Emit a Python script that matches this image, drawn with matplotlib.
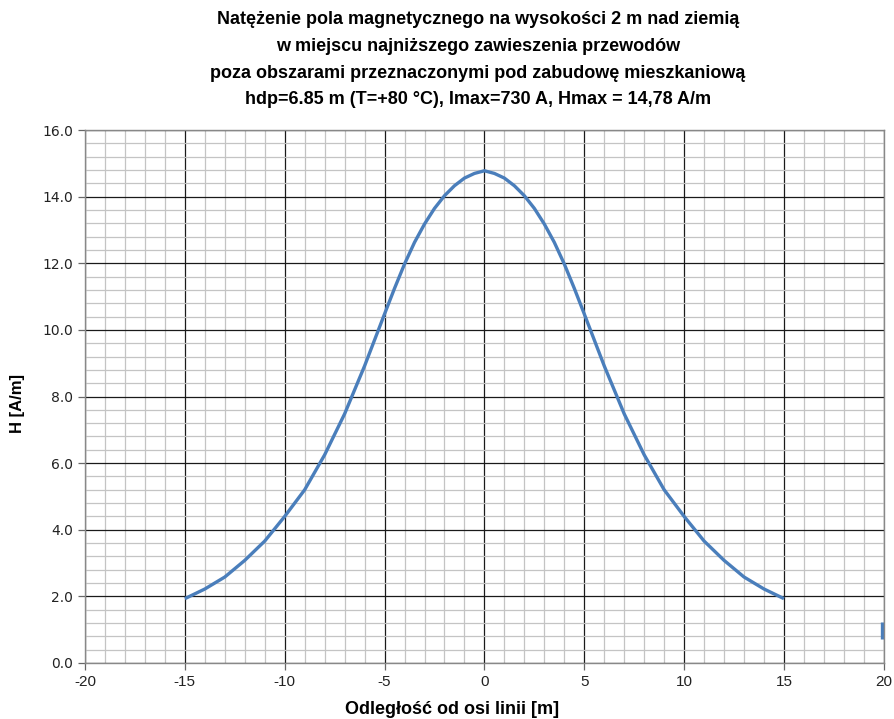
import numpy as np
import matplotlib.pyplot as plt
from matplotlib.ticker import MultipleLocator

# odczyty z wykresu (symetryczne wzgledem osi linii)
x_half = [0, 0.5, 1, 1.5, 2, 2.5, 3, 3.5, 4, 4.5, 5, 6, 7, 8, 9, 10, 11, 12, 13, 14, 15]
h_half = [14.78, 14.70, 14.56, 14.33, 14.03, 13.65, 13.18, 12.63, 11.98, 11.25,
          10.48, 8.92, 7.48, 6.25, 5.20, 4.40, 3.66, 3.08, 2.58, 2.22, 1.93]

x = np.array([-v for v in x_half[:0:-1]] + x_half)
h = np.array(h_half[:0:-1] + h_half)

# maly fragment linii przy prawej krawedzi
stub_x = [19.9, 19.9]
stub_y = [0.71, 1.22]

title = ("Natężenie pola magnetycznego na wysokości 2 m nad ziemią\n"
         "w miejscu najniższego zawieszenia przewodów\n"
         "poza obszarami przeznaczonymi pod zabudowę mieszkaniową\n"
         "hdp=6.85 m (T=+80 °C), Imax=730 A, Hmax = 14,78 A/m")

font = ['Liberation Sans', 'DejaVu Sans']
blue = '#4a7ebb'

fig = plt.figure(figsize=(8.95, 7.19), dpi=100)
ax = fig.add_axes([0.095, 0.078, 0.8925, 0.741])

ax.plot(x, h, color=blue, lw=2.4, solid_capstyle='butt', solid_joinstyle='round')
ax.plot(stub_x, stub_y, color=blue, lw=2.4, clip_on=False, solid_capstyle='butt')

ax.set_xlim(-20, 20)
ax.set_ylim(0, 16)
ax.xaxis.set_major_locator(MultipleLocator(5))
ax.xaxis.set_minor_locator(MultipleLocator(1))
ax.yaxis.set_major_locator(MultipleLocator(2))
ax.yaxis.set_minor_locator(MultipleLocator(0.4))
ax.grid(which='minor', color='#c4c4c4', lw=0.9)
ax.grid(which='major', color='#1a1a1a', lw=0.9)
ax.set_axisbelow(True)
ax.tick_params(which='minor', length=0)
ax.tick_params(which='major', length=5, width=0.9, color='#666666', direction='out')

ax.set_yticks(np.arange(0, 16.1, 2))
ax.set_yticklabels([f"{v:.1f}" for v in np.arange(0, 16.1, 2)],
                   family='DejaVu Sans', fontsize=10, color='#222222')
ax.set_xticks(np.arange(-20, 21, 5))
ax.set_xticklabels([str(v) for v in range(-20, 21, 5)],
                   family=font, fontsize=11, color='#222222')

for s in ax.spines.values():
    s.set_color('#888888')
    s.set_linewidth(1.0)

ax.set_xlabel("Odległość od osi linii [m]", family=font, fontsize=13,
              fontweight='bold')
ax.xaxis.set_label_coords(0.459, -0.072)
ax.set_ylabel("H [A/m]", family=font, fontsize=12, fontweight='bold')
ax.yaxis.set_label_coords(-0.075, 0.486)

fig.text(0.534, 0.985, title, ha='center', va='top', family=font,
         fontsize=13, fontweight='bold', linespacing=1.76)

plt.savefig("out.png", dpi=100)
